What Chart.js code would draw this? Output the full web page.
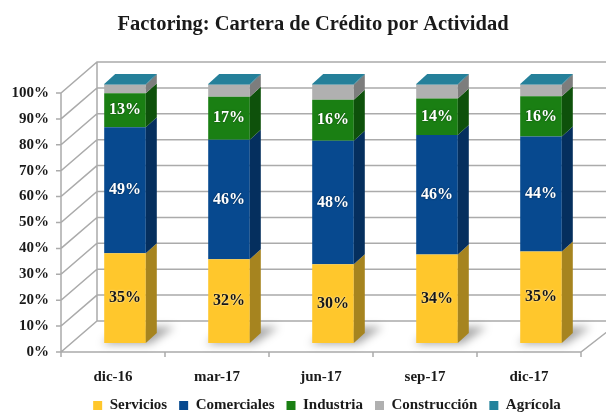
<!DOCTYPE html>
<html lang="es">
<head>
<meta charset="UTF-8">
<title>Factoring: Cartera de Crédito por Actividad</title>
<script src="https://cdn.jsdelivr.net/npm/chart.js"></script>
<style>
  body { margin: 0; background: #fff; }
  #wrap { width: 606px; height: 414px; }
</style>
</head>
<body>
<div id="wrap"><canvas id="chart"></canvas></div>
<script>
const periods = ['dic-16', 'mar-17', 'jun-17', 'sep-17', 'dic-17'];
const servicios = [34.7, 32.3, 30.4, 34.2, 35.3];
const comerciales = [48.6, 46.2, 47.7, 46.1, 44.4];
const industria = [13.1, 16.6, 15.8, 14.1, 15.6];
const construccion = [3.3, 4.6, 5.8, 5.3, 4.4];
const agricola = [0.3, 0.3, 0.3, 0.3, 0.3];
const yTicks = [0, 10, 20, 30, 40, 50, 60, 70, 80, 90, 100];

// front colour, side colour
const palette = [
  ['#FFC72C', '#A6841F'],
  ['#07498F', '#052F5E'],
  ['#1A7F13', '#0E510B'],
  ['#B0B0B0', '#7D7D7D'],
  ['#23829C', '#16596B']
];
const topColor = '#25809A';

const DEPTH = { x: 11, y: 10 };    // bar side / top
const WALL_L = { x: 36, y: 31 };   // left wall depth
const WALL_R = { x: 40, y: 31 };   // right floor edge
const SHIFT = { x: 12, y: -9 };    // bars sit in the middle of the floor

const scene3d = {
  id: 'scene3d',
  afterLayout(chart) {
    // title and legend in the original sit right of the canvas centre
    chart.titleBlock.left += 17;
    chart.titleBlock.right += 17;
    chart.legend.left += 31;
    chart.legend.right += 31;
  },
  beforeDatasetsDraw(chart) {
    const { ctx, chartArea: a, scales: { y } } = chart;
    ctx.save();
    ctx.strokeStyle = '#ABABAB';
    ctx.lineWidth = 1.5;
    ctx.beginPath();
    yTicks.forEach(v => {
      const py = y.getPixelForValue(v);
      ctx.moveTo(a.left - 5, py);
      ctx.lineTo(a.left, py);
      ctx.lineTo(a.left + WALL_L.x, py - WALL_L.y);
      ctx.lineTo(chart.width, py - WALL_L.y);
    });
    ctx.moveTo(a.left, a.top);
    ctx.lineTo(a.left, a.bottom);
    ctx.lineTo(a.right, a.bottom);
    ctx.lineTo(a.right + WALL_R.x, a.bottom - WALL_R.y);
    ctx.moveTo(a.left + WALL_L.x, a.top - WALL_L.y);
    ctx.lineTo(a.left + WALL_L.x, a.bottom - WALL_L.y);
    const n = periods.length;
    for (let i = 0; i <= n; i++) {
      const px = a.left + i * (a.right - a.left) / n;
      ctx.moveTo(px, a.bottom);
      ctx.lineTo(px, a.bottom + 5);
    }
    ctx.stroke();
    ctx.restore();

    ctx.save();
    ctx.translate(SHIFT.x, SHIFT.y);

    // soft floor shadows
    ctx.save();
    ctx.filter = 'blur(4px)';
    ctx.fillStyle = 'rgba(0,0,0,0.35)';
    chart.getDatasetMeta(0).data.forEach(bar => {
      const { x, base, width } = bar.getProps(['x', 'base', 'width'], true);
      const L = x - width / 2, R = x + width / 2;
      ctx.beginPath();
      ctx.moveTo(L - 2, base + 1);
      ctx.lineTo(R + 4, base + 1);
      ctx.lineTo(R + DEPTH.x + 18, base - 16);
      ctx.lineTo(L + DEPTH.x + 6, base - 16);
      ctx.closePath();
      ctx.fill();
    });
    ctx.restore();
  },
  afterDatasetsDraw(chart) {
    const { ctx } = chart;
    const last = chart.data.datasets.length - 1;
    chart.data.datasets.forEach((ds, d) => {
      chart.getDatasetMeta(d).data.forEach((bar, i) => {
        const { x, y, base, width } = bar.getProps(['x', 'y', 'base', 'width'], true);
        const L = x - width / 2, R = x + width / 2;
        ctx.fillStyle = palette[d][1];
        ctx.beginPath();
        ctx.moveTo(R, y);
        ctx.lineTo(R + DEPTH.x, y - DEPTH.y);
        ctx.lineTo(R + DEPTH.x, base - DEPTH.y);
        ctx.lineTo(R, base);
        ctx.closePath();
        ctx.fill();
        if (d === last) {
          ctx.fillStyle = topColor;
          ctx.beginPath();
          ctx.moveTo(L, y);
          ctx.lineTo(R, y);
          ctx.lineTo(R + DEPTH.x, y - DEPTH.y);
          ctx.lineTo(L + DEPTH.x, y - DEPTH.y);
          ctx.closePath();
          ctx.fill();
        }
        if (d <= 2) {
          ctx.save();
          ctx.font = "bold 16px 'Liberation Serif'";
          ctx.textAlign = 'center';
          ctx.textBaseline = 'middle';
          if (d === 0) {
            ctx.shadowColor = 'rgba(255,255,255,0.9)';
            ctx.fillStyle = '#151515';
          } else {
            ctx.shadowColor = 'rgba(0,0,0,0.5)';
            ctx.fillStyle = '#ffffff';
          }
          ctx.shadowBlur = 2;
          ctx.fillText(Math.round(ds.data[i]) + '%', x, (y + base) / 2);
          ctx.restore();
        }
      });
    });
    ctx.restore();
  }
};

Chart.defaults.font.family = "'Liberation Serif', serif";
Chart.defaults.color = '#1a1a1a';

const names = ['Servicios', 'Comerciales', 'Industria', 'Construcción', 'Agrícola'];
const series = [servicios, comerciales, industria, construccion, agricola];

new Chart(document.getElementById('chart'), {
  type: 'bar',
  data: {
    labels: periods,
    datasets: series.map((vals, k) => ({
      label: names[k],
      data: vals,
      backgroundColor: palette[k][0],
      borderWidth: 0,
      barPercentage: 0.4,
      categoryPercentage: 1,
      clip: false
    }))
  },
  options: {
    responsive: true,
    maintainAspectRatio: false,
    animation: false,
    layout: { padding: { left: 11, right: 25, top: 0, bottom: -9 } },
    plugins: {
      title: {
        display: true,
        text: 'Factoring: Cartera de Crédito por Actividad',
        font: { size: 20.5, weight: 'bold' },
        color: '#1a1a1a',
        padding: { top: 12, bottom: 56.4 }
      },
      legend: {
        position: 'bottom',
        labels: {
          boxWidth: 9,
          boxHeight: 9,
          padding: 12,
          font: { size: 15, weight: 'bold' },
          color: '#1a1a1a'
        }
      },
      tooltip: { enabled: false }
    },
    scales: {
      x: {
        stacked: true,
        grid: { display: false, drawTicks: false },
        border: { display: false },
        ticks: { font: { size: 15, weight: 'bold' }, padding: 16, maxRotation: 0 },
        afterFit(s) { s.height = 34; }
      },
      y: {
        stacked: true,
        min: 0,
        max: 100,
        grid: { display: false, drawTicks: false },
        border: { display: false },
        afterBuildTicks(s) { s.ticks = yTicks.map(v => ({ value: v })); },
        ticks: { font: { size: 15, weight: 'bold' }, padding: 12, callback: v => v + '%' },
        afterFit(s) { s.width = 50; }
      }
    }
  },
  plugins: [scene3d]
});
</script>
</body>
</html>
